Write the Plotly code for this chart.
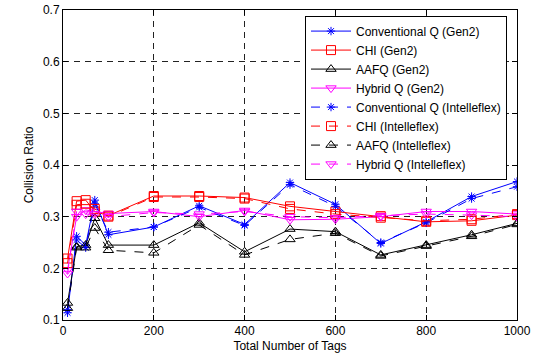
import plotly.graph_objects as go

tags = [10, 30, 50, 70, 100, 200, 300, 400, 500, 600, 700, 800, 900, 1000]

conv_gen2 = [0.114, 0.262, 0.245, 0.332, 0.265, 0.280, 0.321, 0.285, 0.366, 0.324, 0.248, 0.290, 0.339, 0.368]
chi_gen2 = [0.219, 0.330, 0.332, 0.310, 0.302, 0.340, 0.340, 0.337, 0.320, 0.310, 0.301, 0.290, 0.292, 0.303]
aafq_gen2 = [0.133, 0.242, 0.245, 0.297, 0.245, 0.245, 0.288, 0.232, 0.276, 0.271, 0.226, 0.245, 0.265, 0.287]
hybrid_gen2 = [0.197, 0.300, 0.313, 0.310, 0.306, 0.310, 0.300, 0.312, 0.294, 0.295, 0.300, 0.310, 0.310, 0.305]

conv_intel = [0.120, 0.255, 0.240, 0.325, 0.270, 0.280, 0.318, 0.283, 0.362, 0.320, 0.250, 0.288, 0.335, 0.358]
chi_intel = [0.210, 0.323, 0.325, 0.315, 0.300, 0.338, 0.338, 0.335, 0.315, 0.305, 0.298, 0.292, 0.295, 0.305]
aafq_intel = [0.123, 0.240, 0.240, 0.278, 0.235, 0.230, 0.284, 0.226, 0.256, 0.268, 0.224, 0.243, 0.262, 0.285]
hybrid_intel = [0.190, 0.310, 0.305, 0.305, 0.300, 0.308, 0.305, 0.310, 0.300, 0.298, 0.302, 0.305, 0.303, 0.300]

names = ["Conventional Q (Gen2)", "CHI (Gen2)", "AAFQ (Gen2)", "Hybrid Q (Gen2)",
         "Conventional Q (Intelleflex)", "CHI (Intelleflex)", "AAFQ (Intelleflex)", "Hybrid Q (Intelleflex)"]
series = [conv_gen2, chi_gen2, aafq_gen2, hybrid_gen2, conv_intel, chi_intel, aafq_intel, hybrid_intel]
colors = ["#0000ff", "#ff0000", "#000000", "#ff00ff"] * 2
symbols = ["asterisk-open", "square-open", "triangle-up-open", "triangle-down-open"] * 2
sizes = [7, 9, 9, 9] * 2
dashes = ["solid"] * 4 + ["dash"] * 4

fig = go.Figure()
for n, s, c, m, sz, d in zip(names, series, colors, symbols, sizes, dashes):
    fig.add_trace(go.Scatter(
        x=tags, y=s, name=n, mode="lines+markers",
        line=dict(color=c, width=1, dash=d),
        marker=dict(symbol=m, size=sz, color=c, line=dict(color=c, width=1)),
    ))

axis_common = dict(
    showline=True, linecolor="black", linewidth=1, mirror="allticks",
    ticks="inside", ticklen=5, tickcolor="black",
    showgrid=True, gridcolor="#222222", gridwidth=1, griddash="6px,5px",
    zeroline=False, tickfont=dict(size=12, color="black"), automargin=False,
)
fig.update_xaxes(range=[0, 1000], tickvals=[0, 200, 400, 600, 800, 1000],
                 title=dict(text="Total Number of Tags", font=dict(size=12, color="black"), standoff=4),
                 **axis_common)
fig.update_yaxes(range=[0.1, 0.7], tickvals=[0.1, 0.2, 0.3, 0.4, 0.5, 0.6, 0.7],
                 tickformat=".1f",
                 title=dict(text="Collision Ratio", font=dict(size=12, color="black"), standoff=6),
                 **axis_common)

fig.update_layout(
    width=542, height=358,
    margin=dict(l=63, r=25, t=10, b=38),
    paper_bgcolor="white", plot_bgcolor="white",
    font=dict(family="Liberation Sans, Arial, sans-serif", color="black", size=12),
    legend=dict(x=0.978, y=0.982, xanchor="right", yanchor="top",
                bgcolor="white", bordercolor="black", borderwidth=1,
                font=dict(size=12), tracegroupgap=0, itemwidth=40),
)

fig.write_html("out.html")
